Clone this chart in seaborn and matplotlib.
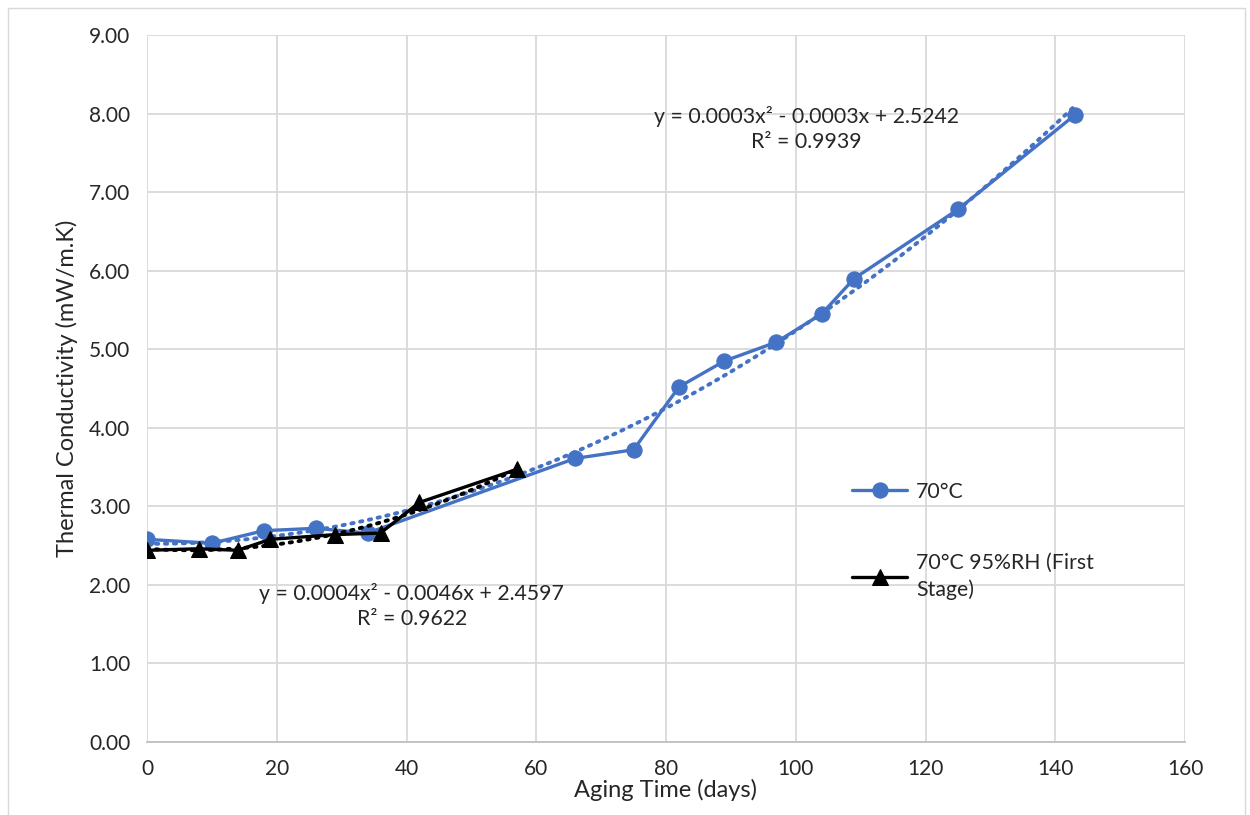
import numpy as np
import pandas as pd
import matplotlib
matplotlib.use('Agg')
import matplotlib.pyplot as plt
import seaborn as sns
from matplotlib.patches import Rectangle

# ---------------- Datos ----------------
dias_70 = [0, 10, 18, 26, 34, 66, 75, 82, 89, 97, 104, 109, 125, 143]
k_70 = [2.58, 2.53, 2.69, 2.72, 2.66, 3.61, 3.72, 4.52, 4.85, 5.09, 5.45, 5.90, 6.78, 7.98]

dias_rh = [0, 8, 14, 19, 29, 36, 42, 57]
k_rh = [2.44, 2.46, 2.44, 2.58, 2.64, 2.66, 3.05, 3.47]

lab_70 = '70°C'
lab_rh = '70°C 95%RH (First\nStage)'
eq_70 = 'y = 0.0003x² - 0.0003x + 2.5242\nR² = 0.9939'
eq_rh = 'y = 0.0004x² - 0.0046x + 2.4597\nR² = 0.9622'

azul = '#4472C4'

sns.set_style('white')
plt.rcParams['font.family'] = ['Lato', 'DejaVu Sans']

fig, ax = plt.subplots(figsize=(12.5, 8.15), dpi=100)
fig.subplots_adjust(left=0.1176, right=0.948, top=0.957, bottom=0.0896)

# Series 70°C
sns.lineplot(x=dias_70, y=k_70, sort=False, color=azul, marker='o', markersize=11,
             markeredgecolor=azul, linewidth=2.4, label=lab_70, ax=ax, zorder=3)
sns.regplot(x=np.array(dias_70), y=np.array(k_70), order=2, ci=None, scatter=False, ax=ax,
            line_kws=dict(color=azul, linestyle=(0, (0.6, 1.7)), linewidth=2.8,
                          dash_capstyle='round', zorder=2))

# Series 70°C 95%RH
sns.lineplot(x=dias_rh, y=k_rh, sort=False, color='black', marker='^', markersize=11,
             markeredgecolor='black', linewidth=2.4, label=lab_rh, ax=ax, zorder=5)
sns.regplot(x=np.array(dias_rh), y=np.array(k_rh), order=2, ci=None, scatter=False, ax=ax,
            line_kws=dict(color='black', linestyle=(0, (0.6, 1.7)), linewidth=2.8,
                          dash_capstyle='round', zorder=4))

# Ecuaciones de tendencia
ax.text(101.6, 7.8, eq_70, ha='center', va='center', fontsize=15.3, linespacing=1.3)
ax.text(40.8, 1.73, eq_rh, ha='center', va='center', fontsize=15.3, linespacing=1.3)

# Ejes
ax.set_xlim(0, 160)
ax.set_ylim(0, 9)
ax.set_xticks(range(0, 161, 20))
ax.set_yticks(np.arange(0, 9.01, 1))
ax.yaxis.set_major_formatter(matplotlib.ticker.FormatStrFormatter('%.2f'))
ax.tick_params(axis='both', length=0, labelsize=15, pad=12)
ax.grid(True, color='#d9d9d9', linewidth=1.3)
ax.set_axisbelow(True)
for s in ['top', 'right', 'left']:
    ax.spines[s].set_visible(False)
ax.spines['bottom'].set_color('#bfbfbf')
ax.spines['bottom'].set_linewidth(1.3)

ax.set_xlabel('Aging Time (days)', fontsize=17, labelpad=0)
ax.set_ylabel('Thermal Conductivity (mW/m.K)', fontsize=17, labelpad=8)

# Leyenda
ax.legend(loc='upper left', bbox_to_anchor=(0.661, 0.395), frameon=False, fontsize=15.3,
          labelspacing=2.4, handlelength=2.6, handletextpad=0.4)
for t in ax.get_legend().get_texts():
    t.set_linespacing(1.4)

# Borde exterior del area del grafico
fig.patches.append(Rectangle((0.0064, -0.01), 0.9896, 1.0, transform=fig.transFigure,
                             fill=False, edgecolor='#d9d9d9', linewidth=1.0))

fig.savefig('out.png', dpi=100)
